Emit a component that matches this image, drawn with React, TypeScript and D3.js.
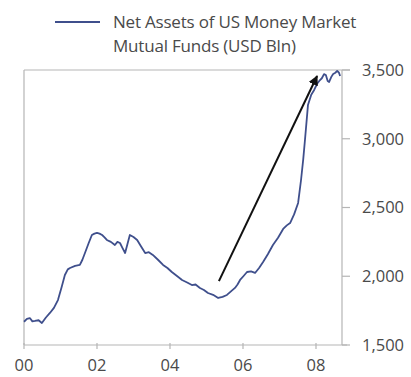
import React from "react";
import * as d3 from "d3";

const years = [
  2000.0, 2000.08, 2000.16, 2000.23, 2000.3, 2000.4, 2000.49, 2000.6, 2000.71, 2000.82, 2000.93,
  2001.03, 2001.12, 2001.2, 2001.26, 2001.4, 2001.53, 2001.6, 2001.67, 2001.77, 2001.86, 2001.93,
  2002.0, 2002.07, 2002.14, 2002.2, 2002.27, 2002.38, 2002.49, 2002.56, 2002.63, 2002.7, 2002.77,
  2002.84, 2002.9, 2003.0, 2003.1, 2003.2, 2003.32, 2003.42, 2003.53, 2003.67, 2003.81, 2003.93,
  2004.05, 2004.2, 2004.33, 2004.47, 2004.6, 2004.7, 2004.82, 2004.93, 2005.04, 2005.18, 2005.32,
  2005.44, 2005.56, 2005.67, 2005.78, 2005.85, 2005.92, 2006.01, 2006.11, 2006.22, 2006.33, 2006.44,
  2006.55, 2006.68, 2006.82, 2006.96, 2007.1, 2007.2, 2007.29, 2007.4, 2007.51, 2007.59, 2007.65,
  2007.7, 2007.78, 2007.87, 2007.95, 2008.03, 2008.11, 2008.16, 2008.22, 2008.27, 2008.32, 2008.36,
  2008.42, 2008.47, 2008.53, 2008.58, 2008.63, 2008.66,
];
const netAssets = [
  1669, 1690, 1696, 1672, 1675, 1680, 1660, 1700, 1733, 1770, 1827,
  1920, 2009, 2050, 2060, 2075, 2082, 2120, 2169, 2240, 2300, 2310,
  2315, 2310, 2300, 2285, 2264, 2250, 2227, 2250, 2242, 2205, 2169,
  2240, 2300, 2285, 2264, 2220, 2169, 2175, 2155, 2120, 2082, 2060,
  2031, 2000, 1973, 1955, 1936, 1940, 1915, 1900, 1878, 1865, 1842,
  1850, 1864, 1890, 1915, 1940, 1973, 2000, 2031, 2035, 2024, 2060,
  2104, 2160, 2227, 2280, 2344, 2370, 2387, 2450, 2533, 2700, 2850,
  2998, 3245, 3320, 3355, 3400, 3427, 3440, 3470, 3464, 3420, 3413,
  3450, 3471, 3480, 3493, 3480, 3456,
];
const yTicks = [1500, 2000, 2500, 3000, 3500];
const xTicks = [2000, 2002, 2004, 2006, 2008];
const xTickLabels = ["00", "02", "04", "06", "08"];
const arrowStart = [2005.34, 1965];
const arrowEnd = [2008.03, 3456];
const legendLines = ["Net Assets of US Money Market", "Mutual Funds (USD Bln)"];

const W = 411;
const H = 377;
const left = 24;
const right = 342;
const top = 70;
const bottom = 345;

export default function App() {
  const x = d3.scaleLinear().domain([2000, 2008]).range([left, 316]);
  const y = d3.scaleLinear().domain([1500, 3500]).range([bottom, top]);
  const line = d3
    .line<number>()
    .x((_, i) => x(years[i]))
    .y((d) => y(d));
  const axisColor = "#b5b5b5";
  const textColor = "#4a4a4a";
  const lineColor = "#3f4f8c";
  const font = "'Open Sans', sans-serif";
  const ax1 = x(arrowStart[0]);
  const ay1 = y(arrowStart[1]);
  const ax2 = x(arrowEnd[0]);
  const ay2 = y(arrowEnd[1]);
  return (
    <svg
      width={W}
      height={H}
      style={{ position: "absolute", left: 0, top: 0, background: "#fff" }}
      fontFamily={font}
    >
      <defs>
        <marker id="ah" viewBox="0 0 10 10" refX="9" refY="5" markerWidth="5" markerHeight="5" orient="auto">
          <path d="M0,0 L10,5 L0,10 Z" fill="#111" />
        </marker>
      </defs>
      {/* legend */}
      <line x1={55} x2={100} y1={22} y2={22} stroke={lineColor} strokeWidth={1.8} />
      {legendLines.map((t, i) => (
        <text key={i} x={113} y={28 + i * 24} fontSize={17} fill={textColor} letterSpacing={-0.2}>
          {t}
        </text>
      ))}
      {/* frame */}
      <line x1={left} x2={left} y1={top} y2={bottom} stroke={axisColor} strokeWidth={1.2} />
      <line x1={left} x2={350} y1={top} y2={top} stroke={axisColor} strokeWidth={1.2} />
      <line x1={left} x2={347} y1={bottom} y2={bottom} stroke={axisColor} strokeWidth={1.2} />
      <line x1={right} x2={right} y1={top} y2={bottom} stroke={axisColor} strokeWidth={1.2} />
      {yTicks.map((t) => (
        <g key={t}>
          <line x1={right} x2={350} y1={y(t)} y2={y(t)} stroke={axisColor} strokeWidth={1.2} />
          <text x={362} y={y(t)} dy="0.36em" fontSize={16.5} fill={textColor}>
            {d3.format(",")(t)}
          </text>
        </g>
      ))}
      {xTicks.map((t, i) => (
        <g key={t}>
          <line x1={x(t)} x2={x(t)} y1={bottom - 2} y2={bottom + 4} stroke={axisColor} strokeWidth={1.2} />
          <text x={x(t)} y={371} textAnchor="middle" fontSize={16.5} fill={textColor}>
            {xTickLabels[i]}
          </text>
        </g>
      ))}
      {/* data line */}
      <path d={line(netAssets) || ""} fill="none" stroke={lineColor} strokeWidth={1.8} strokeLinejoin="round" />
      {/* arrow */}
      <line x1={ax1} y1={ay1} x2={ax2} y2={ay2} stroke="#111" strokeWidth={2} markerEnd="url(#ah)" />
    </svg>
  );
}
